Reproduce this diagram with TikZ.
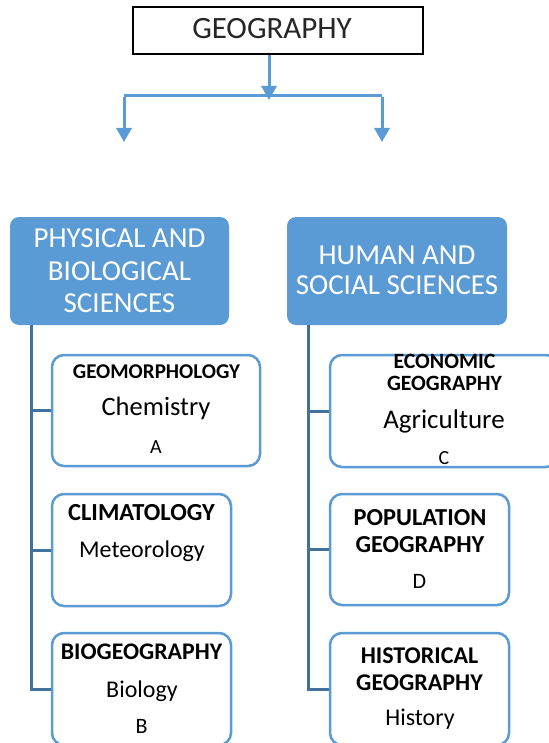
\documentclass[tikz,border=0pt]{standalone}
\usepackage{fontspec}
\setmainfont{Carlito}
\usetikzlibrary{arrows.meta}
\definecolor{mblue}{HTML}{5B9BD5}
\definecolor{dblue}{HTML}{41719C}
\tikzset{
  fs/.style={font=\fontsize{#1}{#1}\selectfont},
  fsb/.style={font=\fontsize{#1}{#1}\selectfont\bfseries},
  txt/.style={anchor=base, inner sep=0pt},
  topbox/.style={draw=black, line width=2pt, fill=white, inner sep=0pt},
  catbox/.style={fill=mblue, rounded corners=9pt, inner sep=0pt},
  subbox/.style={draw=mblue, line width=2.5pt, fill=white, rounded corners=12pt, inner sep=0pt},
  arr/.style={draw=mblue, line width=3pt, -{Triangle[width=15pt,length=14pt]}},
  feed/.style={draw=mblue, line width=3pt},
  tree/.style={draw=dblue, line width=3pt}
}
\begin{document}
\begin{tikzpicture}[x=1pt,y=-1pt]
\useasboundingbox (0,0) rectangle (548,743);
% top box
\node[topbox, minimum width=290pt, minimum height=47pt] (geo) at (278,30.5) {};
\node[txt, fs=31, text=black!85] (geot) at (272,39) {GEOGRAPHY};
% connectors at top
\coordinate (j) at (269,96);
\coordinate (jl) at (124,96);
\coordinate (jr) at (382,96);
\coordinate (al) at (124,142);
\coordinate (ar) at (382,142);
\coordinate (jt) at (269,100);
\draw[feed] (jl) -- (jr);
\draw[arr] (geo.south -| j) -- (jt);
\draw[arr] ([yshift=-1.5pt]jl) -- (al);
\draw[arr] ([yshift=-1.5pt]jr) -- (ar);
% category boxes
\node[catbox, minimum width=219pt, minimum height=108pt] (phys) at (119.5,271) {};
\node[txt, fs=29, text=white] (p1) at (119.5,247) {PHYSICAL AND};
\node[txt, fs=29, text=white] (p2) at (119.5,280) {BIOLOGICAL};
\node[txt, fs=29, text=white] (p3) at (119.5,312) {SCIENCES};
\node[catbox, minimum width=220pt, minimum height=108pt] (hum) at (397,271) {};
\node[txt, fs=29, text=white] (h1) at (397,264) {HUMAN AND};
\node[txt, fs=29, text=white] (h2) at (397,294) {SOCIAL SCIENCES};
% left sub boxes
\node[subbox, minimum width=208pt, minimum height=111pt] (geom) at (156,410.5) {};
\node[txt, fsb=21] (g1) at (156.5,378) {GEOMORPHOLOGY};
\node[txt, fs=26.5] (g2) at (156,415) {Chemistry};
\node[txt, fs=20] (g3) at (156,453) {A};
\node[subbox, minimum width=179pt, minimum height=112pt] (clim) at (141.5,550) {};
\node[txt, fsb=24.5] (c1) at (141.5,520) {CLIMATOLOGY};
\node[txt, fs=24] (c2) at (142,557) {Meteorology};
\node[subbox, minimum width=179pt, minimum height=112pt] (bio) at (141.5,689) {};
\node[txt, fsb=23.8] (b1) at (141.5,659) {BIOGEOGRAPHY};
\node[txt, fs=24] (b2) at (142,697) {Biology};
\node[txt, fs=22] (b3) at (141.5,733) {B};
% right sub boxes
\node[subbox, minimum width=228pt, minimum height=112pt] (econ) at (444,411) {};
\node[txt, fsb=21.8] (e1) at (444.5,368) {ECONOMIC};
\node[txt, fsb=21.8] (e2) at (444.5,390) {GEOGRAPHY};
\node[txt, fs=27] (e3) at (444,428) {Agriculture};
\node[txt, fs=20] (e4) at (444,464) {C};
\node[subbox, minimum width=179pt, minimum height=111pt] (pop) at (419.5,549.5) {};
\node[txt, fsb=24.4] (o1) at (420,525) {POPULATION};
\node[txt, fsb=24.4] (o2) at (420,552) {GEOGRAPHY};
\node[txt, fs=22] (o3) at (419.5,588) {D};
\node[subbox, minimum width=179pt, minimum height=112pt] (hist) at (419.5,689) {};
\node[txt, fsb=24] (s1) at (419.5,663) {HISTORICAL};
\node[txt, fsb=24] (s2) at (419.5,690) {GEOGRAPHY};
\node[txt, fs=24] (s3) at (420,725) {History};
% tree connectors
\coordinate (lt) at (31,689);
\coordinate (rt) at (308,689);
\draw[tree] (phys.south -| lt) -- (lt) -- (bio.west);
\draw[tree] (geom.west -| lt) -- (geom.west);
\draw[tree] (clim.west -| lt) -- (clim.west);
\draw[tree] (hum.south -| rt) -- (rt) -- (hist.west);
\draw[tree] (econ.west -| rt) -- (econ.west);
\draw[tree] (pop.west -| rt) -- (pop.west);
\end{tikzpicture}
\end{document}
